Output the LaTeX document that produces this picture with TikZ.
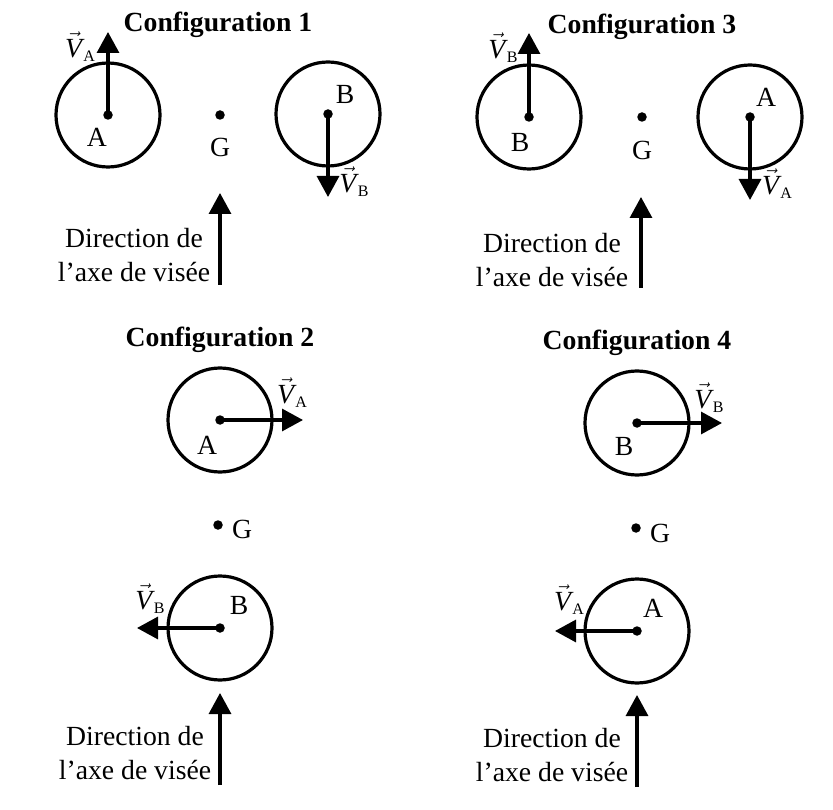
\documentclass[tikz,border=0pt]{standalone}
\usepackage{fontspec}
\setmainfont{Liberation Serif}
\usetikzlibrary{arrows.meta}
\newcommand{\vlab}[1]{$\vec{\textit{V}}$\kern1.5pt\raisebox{-4.5pt}{\fontsize{16}{16}\selectfont #1}}
\tikzset{
  body/.style={circle, draw, line width=3.2pt, minimum size=104pt, inner sep=0pt},
  dotn/.style={circle, fill, inner sep=0pt, minimum size=9.5pt},
  vec/.style={line width=3.2pt, -{Triangle[length=21pt,width=22pt]}},
  lbl/.style={inner sep=0pt, font=\fontsize{27.7}{32}\selectfont},
  ttl/.style={inner sep=0pt, font=\fontsize{27.7}{32}\selectfont\bfseries},
  dirtxt/.style={inner sep=0pt, align=center, font=\fontsize{27.7}{34}\selectfont},
}
\begin{document}
\begin{tikzpicture}[x=1pt,y=-1pt]
\useasboundingbox (0,0) rectangle (833,810);
% ---------- Configuration 1 ----------
\node[ttl] (t1) at (218,25) {Configuration 1};
\node[body] (c1a) at (108,115) {};
\node[dotn] (p1a) at (108,115) {};
\coordinate (e1a) at (108,32);
\draw[vec] (p1a.center) -- (e1a);
\node[lbl] (v1a) at (80,47) {\vlab{A}};
\node[lbl] (l1a) at (97,137) {A};
\node[dotn] (g1) at (220,115) {};
\node[lbl] (lg1) at (220,147) {G};
\node[body] (c1b) at (328,114) {};
\node[dotn] (p1b) at (328,114) {};
\coordinate (e1b) at (328,197);
\draw[vec] (p1b.center) -- (e1b);
\node[lbl] (l1b) at (345,94) {B};
\node[lbl] (v1b) at (354,182) {\vlab{B}};
\coordinate (d1s) at (220,285);
\coordinate (d1e) at (220,193);
\draw[vec] (d1s) -- (d1e);
\node[dirtxt] (x1) at (134,255) {Direction de\\l’axe de visée};
% ---------- Configuration 3 ----------
\node[ttl] (t3) at (642,27) {Configuration 3};
\node[body] (c3b) at (529,117) {};
\node[dotn] (p3b) at (529,117) {};
\coordinate (e3b) at (529,33);
\draw[vec] (p3b.center) -- (e3b);
\node[lbl] (v3b) at (503,48) {\vlab{B}};
\node[lbl] (l3b) at (520,142) {B};
\node[dotn] (g3) at (642,117) {};
\node[lbl] (lg3) at (642,150) {G};
\node[body] (c3a) at (750,117) {};
\node[dotn] (p3a) at (750,117) {};
\coordinate (e3a) at (750,200);
\draw[vec] (p3a.center) -- (e3a);
\node[lbl] (l3a) at (766,97) {A};
\node[lbl] (v3a) at (777,184) {\vlab{A}};
\coordinate (d3s) at (641,288);
\coordinate (d3e) at (641,197);
\draw[vec] (d3s) -- (d3e);
\node[dirtxt] (x3) at (552,260) {Direction de\\l’axe de visée};
% ---------- Configuration 2 ----------
\node[ttl] (t2) at (220,340) {Configuration 2};
\node[body] (c2a) at (220,420) {};
\node[dotn] (p2a) at (220,420) {};
\coordinate (e2a) at (303,420);
\draw[vec] (p2a.center) -- (e2a);
\node[lbl] (v2a) at (292,393) {\vlab{A}};
\node[lbl] (l2a) at (207,445) {A};
\node[dotn] (g2) at (218,525) {};
\node[lbl] (lg2) at (242,529) {G};
\node[body] (c2b) at (220,628) {};
\node[dotn] (p2b) at (220,628) {};
\coordinate (e2b) at (137,628);
\draw[vec] (p2b.center) -- (e2b);
\node[lbl] (v2b) at (150,599) {\vlab{B}};
\node[lbl] (l2b) at (239,605) {B};
\coordinate (d2s) at (220,785);
\coordinate (d2e) at (220,693);
\draw[vec] (d2s) -- (d2e);
\node[dirtxt] (x2) at (135,753) {Direction de\\l’axe de visée};
% ---------- Configuration 4 ----------
\node[ttl] (t4) at (637,343) {Configuration 4};
\node[body] (c4b) at (637,423) {};
\node[dotn] (p4b) at (637,423) {};
\coordinate (e4b) at (722,423);
\draw[vec] (p4b.center) -- (e4b);
\node[lbl] (v4b) at (709,398) {\vlab{B}};
\node[lbl] (l4b) at (624,446) {B};
\node[dotn] (g4) at (636,528) {};
\node[lbl] (lg4) at (660,533) {G};
\node[body] (c4a) at (637,631) {};
\node[dotn] (p4a) at (637,631) {};
\coordinate (e4a) at (555,631);
\draw[vec] (p4a.center) -- (e4a);
\node[lbl] (v4a) at (569,600) {\vlab{A}};
\node[lbl] (l4a) at (653,608) {A};
\coordinate (d4s) at (637,787);
\coordinate (d4e) at (637,695);
\draw[vec] (d4s) -- (d4e);
\node[dirtxt] (x4) at (552,755) {Direction de\\l’axe de visée};
\end{tikzpicture}
\end{document}
